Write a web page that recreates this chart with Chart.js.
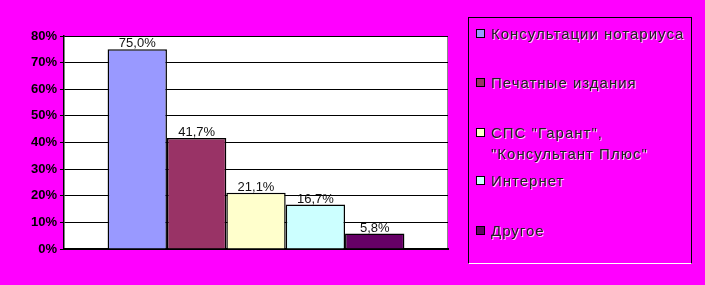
<!DOCTYPE html>
<html>
<head>
<meta charset="utf-8">
<script src="https://cdn.jsdelivr.net/npm/chart.js@4"></script>
<style>
  html, body { margin: 0; padding: 0; background: #ff00ff; }
  #wrap { position: relative; width: 705px; height: 285px; }
  #legend {
    position: absolute; left: 468px; top: 17px; width: 224px; height: 247px;
    border: 1px solid #000; border-bottom-color: #fff; box-sizing: border-box;
    font: 15px "Liberation Sans", Arial, sans-serif; color: #222; letter-spacing: 1px;
    text-shadow: 1px 1px 0 rgba(255,255,255,0.8);
  }
  .item { position: absolute; left: 22px; line-height: 21px; white-space: nowrap; }
  .box { position: absolute; left: -15px; top: 6px; width: 9px; height: 9px; border: 1px solid #000; box-sizing: border-box; }
</style>
</head>
<body>
<div id="wrap">
  <canvas id="chart" width="705" height="285"></canvas>
  <div id="legend"></div>
</div>
<script>
// chart data
const seriesNames = ['Консультации нотариуса', 'Печатные издания', 'СПС "Гарант",\n"Консультант Плюс"', 'Интернет', 'Другое'];
const seriesValues = [75.0, 41.7, 21.1, 16.7, 5.8];
const seriesColors = ['#9999ff', '#993366', '#ffffcc', '#ccffff', '#660066'];
const yTicks = [0, 10, 20, 30, 40, 50, 60, 70, 80];
const legendTops = [5, 54, 104, 152, 202]; // px inside legend box

const fmt = v => v.toFixed(1).replace('.', ',') + '%';

// white plot area
const plotBg = {
  id: 'plotBg',
  beforeDraw(chart) {
    const { ctx, chartArea: a } = chart;
    ctx.save();
    ctx.fillStyle = '#fff';
    ctx.fillRect(a.left, a.top, a.right - a.left, a.bottom - a.top);
    ctx.strokeStyle = '#888';
    ctx.lineWidth = 1;
    ctx.beginPath();
    ctx.moveTo(a.left, a.top + 0.5); ctx.lineTo(a.right - 0.5, a.top + 0.5); ctx.lineTo(a.right - 0.5, a.bottom);
    ctx.stroke();
    ctx.restore();
  }
};

// value labels above bars
const valueLabels = {
  id: 'valueLabels',
  afterDatasetsDraw(chart) {
    const ctx = chart.ctx;
    ctx.save();
    ctx.font = '13px "Liberation Sans", Arial, sans-serif';
    ctx.fillStyle = '#111';
    ctx.textAlign = 'center';
    ctx.textBaseline = 'bottom';
    chart.data.datasets.forEach((ds, i) => {
      const bar = chart.getDatasetMeta(i).data[0];
      ctx.fillText(fmt(ds.data[0]), bar.x, bar.y + 1);
    });
    ctx.restore();
  }
};

new Chart(document.getElementById('chart'), {
  type: 'bar',
  data: {
    labels: [''],
    datasets: seriesNames.map((name, i) => ({
      label: name,
      data: [seriesValues[i]],
      backgroundColor: seriesColors[i],
      borderColor: '#000',
      borderWidth: 1.5,
      categoryPercentage: 0.773,
      barPercentage: 1
    }))
  },
  options: {
    responsive: false,
    animation: false,
    layout: { padding: { left: 0, top: 36, right: 257, bottom: 36 } },
    plugins: { legend: { display: false }, tooltip: { enabled: false } },
    scales: {
      x: {
        ticks: { display: false },
        grid: { display: false },
        border: { color: '#000', width: 2 },
        afterFit: s => { s.height = 0; }
      },
      y: {
        min: 0, max: 80,
        afterBuildTicks: s => { s.ticks = yTicks.map(v => ({ value: v })); },
        ticks: {
          callback: v => v + '%',
          color: '#000',
          padding: 3,
          font: { family: '"Liberation Sans", Arial, sans-serif', size: 13, weight: 'bold' }
        },
        grid: { color: '#000', tickLength: 4, tickColor: '#000' },
        border: { color: '#000', width: 1.5 },
        afterFit: s => { s.width = 64; }
      }
    }
  },
  plugins: [plotBg, valueLabels]
});

// legend
const legend = document.getElementById('legend');
seriesNames.forEach((name, i) => {
  const item = document.createElement('div');
  item.className = 'item';
  item.style.top = legendTops[i] + 'px';
  item.innerHTML = '<span class="box" style="background:' + seriesColors[i] + '"></span>' +
    name.split('\n').map(t => t.replace(/</g, '&lt;')).join('<br>');
  legend.appendChild(item);
});
</script>
</body>
</html>
